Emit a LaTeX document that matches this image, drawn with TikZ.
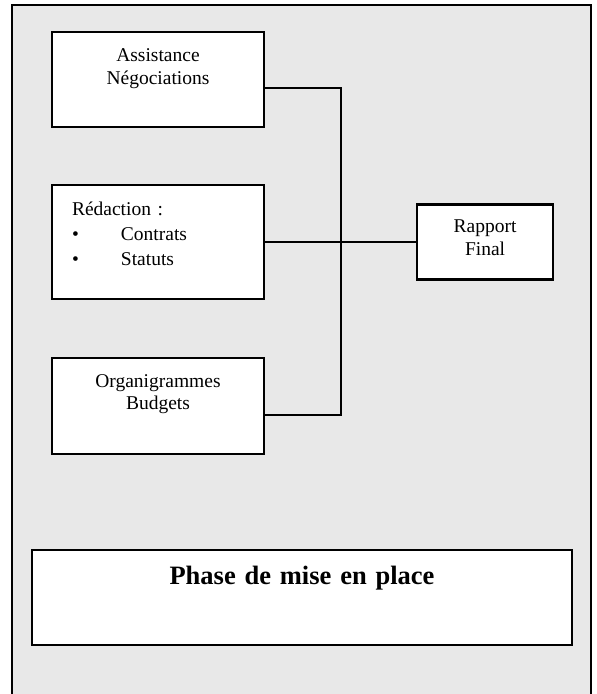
\documentclass[tikz,border=0pt]{standalone}
\usepackage{fontspec}
\setmainfont{Liberation Serif}
\usepackage{tikz}
\usetikzlibrary{positioning}

\begin{document}
\begin{tikzpicture}[x=1pt, y=1pt, box/.style={draw, fill=white, line width=2.6pt, inner sep=0pt, align=center, font=\fontsize{19.5}{22.5}\selectfont}, link/.style={line width=1.7pt}]
  \useasboundingbox (0,0) rectangle (597,694);
  \fill[gray!18] (12,-5) rectangle (591,689);
  \draw[line width=1.8pt] (12,-5) -- (12,689) -- (591,689) -- (591,-5);
  \node (assist) [box, text width=212pt, text height=30pt, text depth=65pt] at (158,614.5) {Assistance\\Négociations};
  \node (redac) [box, below=55.5pt of assist, text width=172pt, inner xsep=20pt, align=left, text height=30pt, text depth=84pt] {Rédaction :\\[2.5pt]\makebox[49pt][l]{\textbullet}Contrats\\[2.5pt]\makebox[49pt][l]{\textbullet}Statuts};
  \node (orga) [box, below=56.5pt of redac, text width=212pt, text height=29pt, text depth=67pt] {Organigrammes\\Budgets};
  \node (rapport) [box, right=150.5pt of redac, text width=136pt, text height=28pt, text depth=47pt] {Rapport\\Final};
  \node (phase) [box, text width=540pt, text height=35pt, text depth=60pt, font=\fontsize{26.5}{30}\selectfont\bfseries] at (302,96.5) {Phase de mise en place};
  \coordinate (jtop) at (341,606);
  \coordinate (jbot) at (341,279);
  \draw[link] (assist.east |- jtop) -- (jtop) -- (jbot) -- (orga.east |- jbot);
  \draw[link] (redac.east) -- (rapport.west);
\end{tikzpicture}
\end{document}
